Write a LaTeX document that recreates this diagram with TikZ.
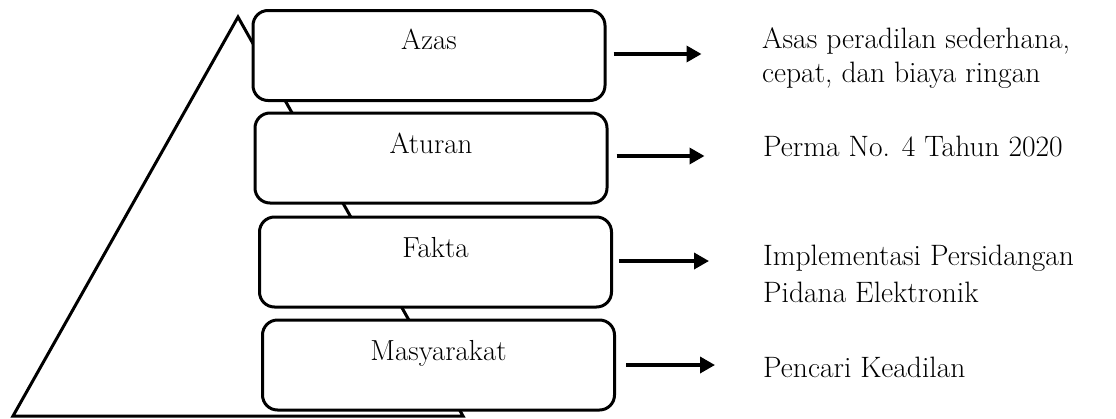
\documentclass[tikz,border=0pt]{standalone}
\usetikzlibrary{arrows.meta}
\begin{document}
\begin{tikzpicture}[x=1pt,y=-1pt,
  box/.style={draw, line width=3pt, rounded corners=15pt, fill=white,
    minimum width=352pt, minimum height=90pt, inner sep=0pt},
  lab/.style={font=\fontsize{29}{34}\selectfont, inner sep=0pt},
  side/.style={font=\fontsize{29.5}{34}\selectfont, anchor=base west, inner sep=0pt},
  arr/.style={line width=3.5pt, -{Triangle[length=15pt,width=16pt]}},
  tri/.style={line width=3pt, line join=miter}]
\useasboundingbox (0,0) rectangle (1116,418);
% pyramid
\coordinate (apex) at (238,17);
\coordinate (bl) at (13,416);
\coordinate (br) at (463,416);
\draw[tri] (bl) -- (apex) -- (br) -- cycle;
% boxes
\node[box, label={[lab, anchor=base, yshift=-40pt]north:Azas}] (b1) at (429,55.5) {};
\node[box, label={[lab, anchor=base, yshift=-42pt]north:Aturan}] (b2) at (431,158) {};
\node[box, label={[lab, anchor=base, yshift=-42pt]north:Fakta}] (b3) at (435.5,262) {};
\node[box, label={[lab, anchor=base, yshift=-42pt]north:Masyarakat}] (b4) at (438.5,365) {};
% right texts
\node[side] (t1a) at (762,48) {Asas peradilan sederhana,};
\node[side] (t1b) at (762,82) {cepat, dan biaya ringan};
\node[side] (t2) at (763,156) {Perma No. 4 Tahun 2020};
\node[side] (t3a) at (763,265) {Implementasi Persidangan};
\node[side] (t3b) at (763,302) {Pidana Elektronik};
\node[side] (t4) at (763,377) {Pencari Keadilan};
% arrows
\draw[arr] ([xshift=7pt,yshift=1.5pt]b1.east) -- ++(88,0);
\draw[arr] ([xshift=8pt,yshift=2pt]b2.east) -- ++(88,0);
\draw[arr] ([xshift=6pt,yshift=1pt]b3.east) -- ++(90,0);
\draw[arr] ([xshift=10pt]b4.east) -- ++(89,0);
\end{tikzpicture}
\end{document}
